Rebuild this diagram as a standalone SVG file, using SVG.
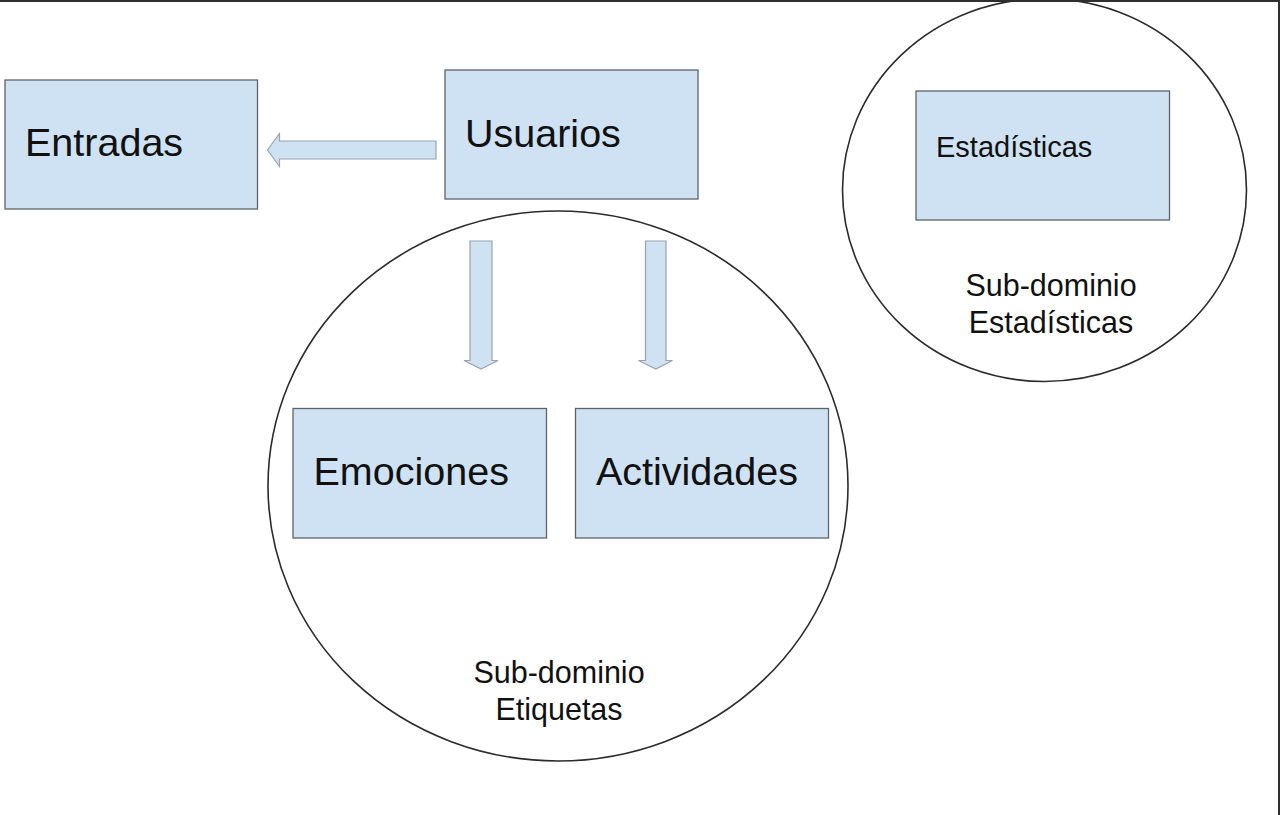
<svg xmlns="http://www.w3.org/2000/svg" width="1280" height="815" viewBox="0 0 1280 815">
<style>
.box{fill:#cfe2f3;stroke:#5f6368;stroke-width:1.3}
.arrow{fill:#cfe2f3;stroke:#9aa4ae;stroke-width:1.2}
.dom{fill:none;stroke:#2b2b2b;stroke-width:1.6}
.big{font-family:"Liberation Sans",Arial,sans-serif;font-size:39.5px;fill:#111}
.mid{font-family:"Liberation Sans",Arial,sans-serif;font-size:29px;fill:#111}
.lab{font-family:"Liberation Sans",Arial,sans-serif;font-size:30.5px;fill:#111;text-anchor:middle}
</style>
<rect x="0" y="0" width="1280" height="815" fill="#ffffff"/>
<g id="dominio-etiquetas">
<ellipse class="dom" cx="558" cy="486" rx="290" ry="275"/>
<text class="lab" x="559" y="683">Sub-dominio</text>
<text class="lab" x="559" y="720">Etiquetas</text>
</g>
<g id="dominio-estadisticas">
<ellipse class="dom" cx="1044.5" cy="190" rx="202" ry="191.5"/>
<text class="lab" x="1051" y="296">Sub-dominio</text>
<text class="lab" x="1051" y="333">Estadísticas</text>
</g>
<g id="entradas">
<rect class="box" x="5" y="80" width="252.5" height="129"/>
<text class="big" x="25" y="156">Entradas</text>
</g>
<g id="usuarios">
<rect class="box" x="445" y="70" width="253" height="129"/>
<text class="big" x="465" y="146.5">Usuarios</text>
</g>
<g id="estadisticas">
<rect class="box" x="916" y="91" width="253.5" height="129"/>
<text class="mid" x="936" y="157">Estadísticas</text>
</g>
<g id="emociones">
<rect class="box" x="293" y="408.5" width="253.5" height="129.5"/>
<text class="big" x="313.5" y="485">Emociones</text>
</g>
<g id="actividades">
<rect class="box" x="575.5" y="408.5" width="253" height="129.5"/>
<text class="big" x="596" y="485">Actividades</text>
</g>
<g id="connectors">
<polygon class="arrow" points="436,141 279.5,141 279.5,133.5 267.5,150 279.5,166.5 279.5,159 436,159"/>
<polygon class="arrow" points="470,241 492,241 492,360.5 498,360.5 481,369 464,360.5 470,360.5"/>
<polygon class="arrow" points="645.5,241 666,241 666,360.5 672.5,360.5 655.8,369 638.5,360.5 645.5,360.5"/>
</g>
<rect x="0" y="0" width="1280" height="2" fill="#2e2e2e"/>
<rect x="1278" y="0" width="2" height="815" fill="#2e2e2e"/>
</svg>
